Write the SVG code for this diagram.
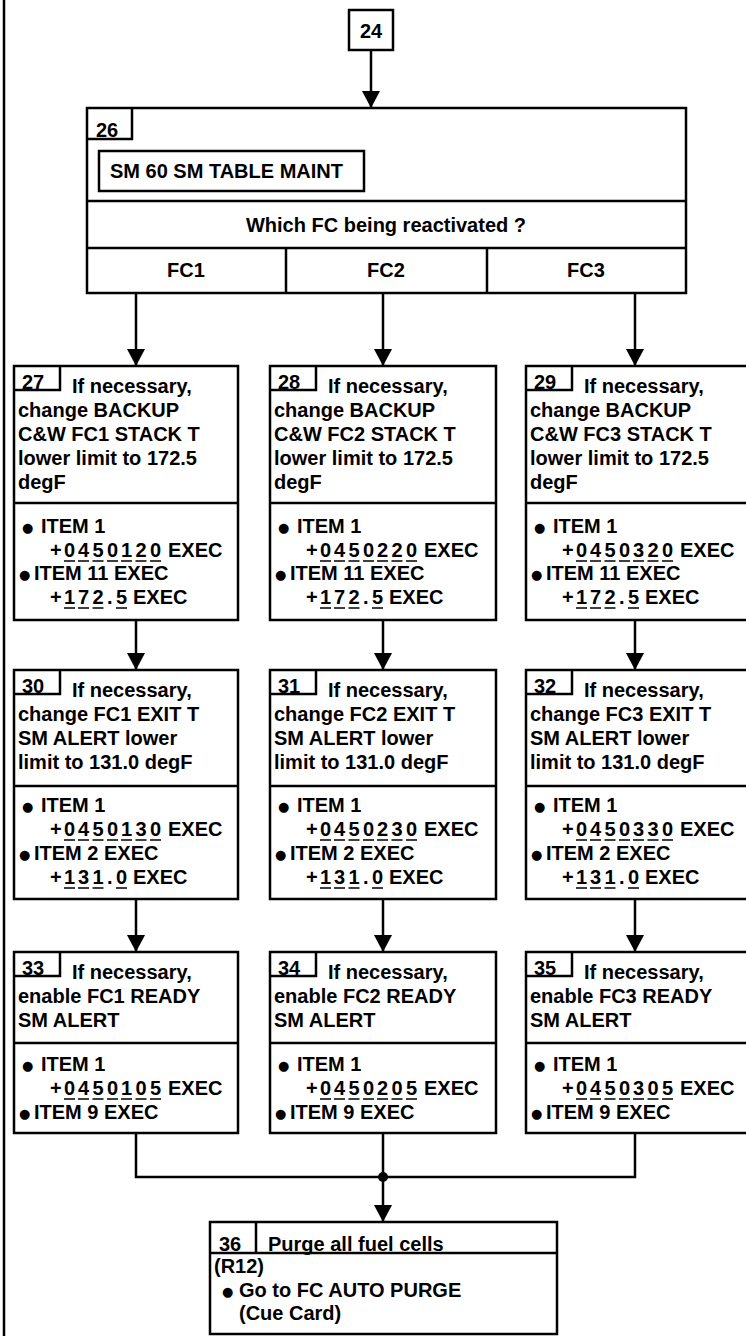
<svg xmlns="http://www.w3.org/2000/svg" width="746" height="1336" viewBox="0 0 746 1336">
<style>
.t{font-family:"Liberation Sans",Arial,sans-serif;font-weight:bold;font-size:20px;fill:#000}
.c{text-anchor:middle}
.bu{font-family:"DejaVu Sans",sans-serif;font-size:13px;fill:#000}
.bx{fill:#fff;stroke:#000;stroke-width:2.5}
.ln{fill:none;stroke:#000;stroke-width:2.5}
.u{fill:none;stroke:#000;stroke-width:1.6}
</style>
<defs>
<marker id="ah" markerUnits="userSpaceOnUse" markerWidth="18" markerHeight="18" refX="17" refY="9" orient="auto"><path d="M0 0L17 9L0 18z" fill="#000"/></marker>
</defs>
<rect width="746" height="1336" fill="#fff"/>
<path class="ln" d="M4 0V1336"/>

<g id="connectors">
<path class="ln" d="M371 50V108" marker-end="url(#ah)"/>
<path class="ln" d="M136 293V366" marker-end="url(#ah)"/>
<path class="ln" d="M383 293V366" marker-end="url(#ah)"/>
<path class="ln" d="M635 293V366" marker-end="url(#ah)"/>
<path class="ln" d="M136 620V670" marker-end="url(#ah)"/>
<path class="ln" d="M383 620V670" marker-end="url(#ah)"/>
<path class="ln" d="M635 620V670" marker-end="url(#ah)"/>
<path class="ln" d="M136 899V952" marker-end="url(#ah)"/>
<path class="ln" d="M383 899V952" marker-end="url(#ah)"/>
<path class="ln" d="M635 899V952" marker-end="url(#ah)"/>
<path class="ln" d="M136 1133V1177H635V1133M383 1133V1177"/>
<path class="ln" d="M383 1177V1222" marker-end="url(#ah)"/>
<circle cx="383" cy="1177" r="5" fill="#000"/>
</g>

<g id="n24">
<rect class="bx" x="349" y="10" width="44" height="40"/>
<text class="t c" x="371" y="38">24</text>
</g>

<g id="n26">
<rect class="bx" x="87" y="108" width="599" height="185"/>
<path class="ln" d="M132 108V139H87M87 201H686M87 248H686M286 248V293M487 248V293"/>
<text class="t" x="96" y="137">26</text>
<rect class="bx" x="99" y="151" width="265" height="40"/>
<text class="t" x="110" y="178">SM 60 SM TABLE MAINT</text>
<text class="t c" x="386" y="232">Which FC being reactivated ?</text>
<text class="t c" x="186" y="277">FC1</text>
<text class="t c" x="386" y="277">FC2</text>
<text class="t c" x="586" y="277">FC3</text>
</g>

<g id="n27" transform="translate(14,366)">
<rect class="bx" x="0" y="0" width="224" height="254"/>
<path class="ln" d="M46 0V24H0M0 137H224"/>
<text class="t" x="8" y="23">27</text>
<text class="t" x="58" y="27">If necessary,</text>
<text class="t" x="4" y="51">change BACKUP</text>
<text class="t" x="4" y="75">C&amp;W FC1 STACK T</text>
<text class="t" x="4" y="99">lower limit to 172.5</text>
<text class="t" x="4" y="123">degF</text>
<text class="bu" x="8" y="166">●</text><text class="t" x="27" y="167">ITEM 1</text>
<text class="t" y="191"><tspan x="36">+</tspan><tspan x="50">0</tspan><tspan x="64">4</tspan><tspan x="78.5">5</tspan><tspan x="93">0</tspan><tspan x="107">1</tspan><tspan x="121.5">2</tspan><tspan x="136">0</tspan><tspan x="154">EXEC</tspan></text>
<path class="u" d="M50 195h11M64 195h11M78.5 195h11M93 195h11M107 195h11M121.5 195h11M136 195h11"/>
<text class="bu" x="5" y="213">●</text><text class="t" x="20" y="214">ITEM 11 EXEC</text>
<text class="t" y="238"><tspan x="36">+</tspan><tspan x="50">1</tspan><tspan x="64">7</tspan><tspan x="78.5">2</tspan><tspan x="93">.</tspan><tspan x="102">5</tspan><tspan x="119">EXEC</tspan></text>
<path class="u" d="M50 242h11M64 242h11M78.5 242h11M102 242h11"/>
</g>

<g id="n28" transform="translate(270,366)">
<rect class="bx" x="0" y="0" width="226" height="254"/>
<path class="ln" d="M46 0V24H0M0 137H226"/>
<text class="t" x="8" y="23">28</text>
<text class="t" x="58" y="27">If necessary,</text>
<text class="t" x="4" y="51">change BACKUP</text>
<text class="t" x="4" y="75">C&amp;W FC2 STACK T</text>
<text class="t" x="4" y="99">lower limit to 172.5</text>
<text class="t" x="4" y="123">degF</text>
<text class="bu" x="8" y="166">●</text><text class="t" x="27" y="167">ITEM 1</text>
<text class="t" y="191"><tspan x="36">+</tspan><tspan x="50">0</tspan><tspan x="64">4</tspan><tspan x="78.5">5</tspan><tspan x="93">0</tspan><tspan x="107">2</tspan><tspan x="121.5">2</tspan><tspan x="136">0</tspan><tspan x="154">EXEC</tspan></text>
<path class="u" d="M50 195h11M64 195h11M78.5 195h11M93 195h11M107 195h11M121.5 195h11M136 195h11"/>
<text class="bu" x="5" y="213">●</text><text class="t" x="20" y="214">ITEM 11 EXEC</text>
<text class="t" y="238"><tspan x="36">+</tspan><tspan x="50">1</tspan><tspan x="64">7</tspan><tspan x="78.5">2</tspan><tspan x="93">.</tspan><tspan x="102">5</tspan><tspan x="119">EXEC</tspan></text>
<path class="u" d="M50 242h11M64 242h11M78.5 242h11M102 242h11"/>
</g>

<g id="n29" transform="translate(526,366)">
<rect class="bx" x="0" y="0" width="232" height="254"/>
<path class="ln" d="M46 0V24H0M0 137H232"/>
<text class="t" x="8" y="23">29</text>
<text class="t" x="58" y="27">If necessary,</text>
<text class="t" x="4" y="51">change BACKUP</text>
<text class="t" x="4" y="75">C&amp;W FC3 STACK T</text>
<text class="t" x="4" y="99">lower limit to 172.5</text>
<text class="t" x="4" y="123">degF</text>
<text class="bu" x="8" y="166">●</text><text class="t" x="27" y="167">ITEM 1</text>
<text class="t" y="191"><tspan x="36">+</tspan><tspan x="50">0</tspan><tspan x="64">4</tspan><tspan x="78.5">5</tspan><tspan x="93">0</tspan><tspan x="107">3</tspan><tspan x="121.5">2</tspan><tspan x="136">0</tspan><tspan x="154">EXEC</tspan></text>
<path class="u" d="M50 195h11M64 195h11M78.5 195h11M93 195h11M107 195h11M121.5 195h11M136 195h11"/>
<text class="bu" x="5" y="213">●</text><text class="t" x="20" y="214">ITEM 11 EXEC</text>
<text class="t" y="238"><tspan x="36">+</tspan><tspan x="50">1</tspan><tspan x="64">7</tspan><tspan x="78.5">2</tspan><tspan x="93">.</tspan><tspan x="102">5</tspan><tspan x="119">EXEC</tspan></text>
<path class="u" d="M50 242h11M64 242h11M78.5 242h11M102 242h11"/>
</g>

<g id="n30" transform="translate(14,670)">
<rect class="bx" x="0" y="0" width="224" height="229"/>
<path class="ln" d="M46 0V24H0M0 116H224"/>
<text class="t" x="8" y="23">30</text>
<text class="t" x="58" y="27">If necessary,</text>
<text class="t" x="4" y="51">change FC1 EXIT T</text>
<text class="t" x="4" y="75">SM ALERT lower</text>
<text class="t" x="4" y="99">limit to 131.0 degF</text>
<text class="bu" x="8" y="141">●</text><text class="t" x="27" y="142">ITEM 1</text>
<text class="t" y="166"><tspan x="36">+</tspan><tspan x="50">0</tspan><tspan x="64">4</tspan><tspan x="78.5">5</tspan><tspan x="93">0</tspan><tspan x="107">1</tspan><tspan x="121.5">3</tspan><tspan x="136">0</tspan><tspan x="154">EXEC</tspan></text>
<path class="u" d="M50 170h11M64 170h11M78.5 170h11M93 170h11M107 170h11M121.5 170h11M136 170h11"/>
<text class="bu" x="5" y="189">●</text><text class="t" x="20" y="190">ITEM 2 EXEC</text>
<text class="t" y="214"><tspan x="36">+</tspan><tspan x="50">1</tspan><tspan x="64">3</tspan><tspan x="78.5">1</tspan><tspan x="93">.</tspan><tspan x="102">0</tspan><tspan x="119">EXEC</tspan></text>
<path class="u" d="M50 218h11M64 218h11M78.5 218h11M102 218h11"/>
</g>

<g id="n31" transform="translate(270,670)">
<rect class="bx" x="0" y="0" width="226" height="229"/>
<path class="ln" d="M46 0V24H0M0 116H226"/>
<text class="t" x="8" y="23">31</text>
<text class="t" x="58" y="27">If necessary,</text>
<text class="t" x="4" y="51">change FC2 EXIT T</text>
<text class="t" x="4" y="75">SM ALERT lower</text>
<text class="t" x="4" y="99">limit to 131.0 degF</text>
<text class="bu" x="8" y="141">●</text><text class="t" x="27" y="142">ITEM 1</text>
<text class="t" y="166"><tspan x="36">+</tspan><tspan x="50">0</tspan><tspan x="64">4</tspan><tspan x="78.5">5</tspan><tspan x="93">0</tspan><tspan x="107">2</tspan><tspan x="121.5">3</tspan><tspan x="136">0</tspan><tspan x="154">EXEC</tspan></text>
<path class="u" d="M50 170h11M64 170h11M78.5 170h11M93 170h11M107 170h11M121.5 170h11M136 170h11"/>
<text class="bu" x="5" y="189">●</text><text class="t" x="20" y="190">ITEM 2 EXEC</text>
<text class="t" y="214"><tspan x="36">+</tspan><tspan x="50">1</tspan><tspan x="64">3</tspan><tspan x="78.5">1</tspan><tspan x="93">.</tspan><tspan x="102">0</tspan><tspan x="119">EXEC</tspan></text>
<path class="u" d="M50 218h11M64 218h11M78.5 218h11M102 218h11"/>
</g>

<g id="n32" transform="translate(526,670)">
<rect class="bx" x="0" y="0" width="232" height="229"/>
<path class="ln" d="M46 0V24H0M0 116H232"/>
<text class="t" x="8" y="23">32</text>
<text class="t" x="58" y="27">If necessary,</text>
<text class="t" x="4" y="51">change FC3 EXIT T</text>
<text class="t" x="4" y="75">SM ALERT lower</text>
<text class="t" x="4" y="99">limit to 131.0 degF</text>
<text class="bu" x="8" y="141">●</text><text class="t" x="27" y="142">ITEM 1</text>
<text class="t" y="166"><tspan x="36">+</tspan><tspan x="50">0</tspan><tspan x="64">4</tspan><tspan x="78.5">5</tspan><tspan x="93">0</tspan><tspan x="107">3</tspan><tspan x="121.5">3</tspan><tspan x="136">0</tspan><tspan x="154">EXEC</tspan></text>
<path class="u" d="M50 170h11M64 170h11M78.5 170h11M93 170h11M107 170h11M121.5 170h11M136 170h11"/>
<text class="bu" x="5" y="189">●</text><text class="t" x="20" y="190">ITEM 2 EXEC</text>
<text class="t" y="214"><tspan x="36">+</tspan><tspan x="50">1</tspan><tspan x="64">3</tspan><tspan x="78.5">1</tspan><tspan x="93">.</tspan><tspan x="102">0</tspan><tspan x="119">EXEC</tspan></text>
<path class="u" d="M50 218h11M64 218h11M78.5 218h11M102 218h11"/>
</g>

<g id="n33" transform="translate(14,952)">
<rect class="bx" x="0" y="0" width="224" height="181"/>
<path class="ln" d="M46 0V24H0M0 91H224"/>
<text class="t" x="8" y="23">33</text>
<text class="t" x="58" y="27">If necessary,</text>
<text class="t" x="4" y="51">enable FC1 READY</text>
<text class="t" x="4" y="75">SM ALERT</text>
<text class="bu" x="8" y="118">●</text><text class="t" x="27" y="119">ITEM 1</text>
<text class="t" y="143"><tspan x="36">+</tspan><tspan x="50">0</tspan><tspan x="64">4</tspan><tspan x="78.5">5</tspan><tspan x="93">0</tspan><tspan x="107">1</tspan><tspan x="121.5">0</tspan><tspan x="136">5</tspan><tspan x="154">EXEC</tspan></text>
<path class="u" d="M50 147h11M64 147h11M78.5 147h11M93 147h11M107 147h11M121.5 147h11M136 147h11"/>
<text class="bu" x="5" y="166">●</text><text class="t" x="20" y="167">ITEM 9 EXEC</text>
</g>

<g id="n34" transform="translate(270,952)">
<rect class="bx" x="0" y="0" width="226" height="181"/>
<path class="ln" d="M46 0V24H0M0 91H226"/>
<text class="t" x="8" y="23">34</text>
<text class="t" x="58" y="27">If necessary,</text>
<text class="t" x="4" y="51">enable FC2 READY</text>
<text class="t" x="4" y="75">SM ALERT</text>
<text class="bu" x="8" y="118">●</text><text class="t" x="27" y="119">ITEM 1</text>
<text class="t" y="143"><tspan x="36">+</tspan><tspan x="50">0</tspan><tspan x="64">4</tspan><tspan x="78.5">5</tspan><tspan x="93">0</tspan><tspan x="107">2</tspan><tspan x="121.5">0</tspan><tspan x="136">5</tspan><tspan x="154">EXEC</tspan></text>
<path class="u" d="M50 147h11M64 147h11M78.5 147h11M93 147h11M107 147h11M121.5 147h11M136 147h11"/>
<text class="bu" x="5" y="166">●</text><text class="t" x="20" y="167">ITEM 9 EXEC</text>
</g>

<g id="n35" transform="translate(526,952)">
<rect class="bx" x="0" y="0" width="232" height="181"/>
<path class="ln" d="M46 0V24H0M0 91H232"/>
<text class="t" x="8" y="23">35</text>
<text class="t" x="58" y="27">If necessary,</text>
<text class="t" x="4" y="51">enable FC3 READY</text>
<text class="t" x="4" y="75">SM ALERT</text>
<text class="bu" x="8" y="118">●</text><text class="t" x="27" y="119">ITEM 1</text>
<text class="t" y="143"><tspan x="36">+</tspan><tspan x="50">0</tspan><tspan x="64">4</tspan><tspan x="78.5">5</tspan><tspan x="93">0</tspan><tspan x="107">3</tspan><tspan x="121.5">0</tspan><tspan x="136">5</tspan><tspan x="154">EXEC</tspan></text>
<path class="u" d="M50 147h11M64 147h11M78.5 147h11M93 147h11M107 147h11M121.5 147h11M136 147h11"/>
<text class="bu" x="5" y="166">●</text><text class="t" x="20" y="167">ITEM 9 EXEC</text>
</g>

<g id="n36" transform="translate(210,1222)">
<rect class="bx" x="0" y="0" width="347" height="112"/>
<path class="ln" d="M46 0V31M0 31H347"/>
<text class="t" x="9" y="29">36</text>
<text class="t" x="58" y="29">Purge all fuel cells</text>
<text class="t" x="4" y="51">(R12)</text>
<text class="bu" x="12" y="74">●</text><text class="t" x="29" y="75">Go to FC AUTO PURGE</text>
<text class="t" x="29" y="98">(Cue Card)</text>
</g>
</svg>
